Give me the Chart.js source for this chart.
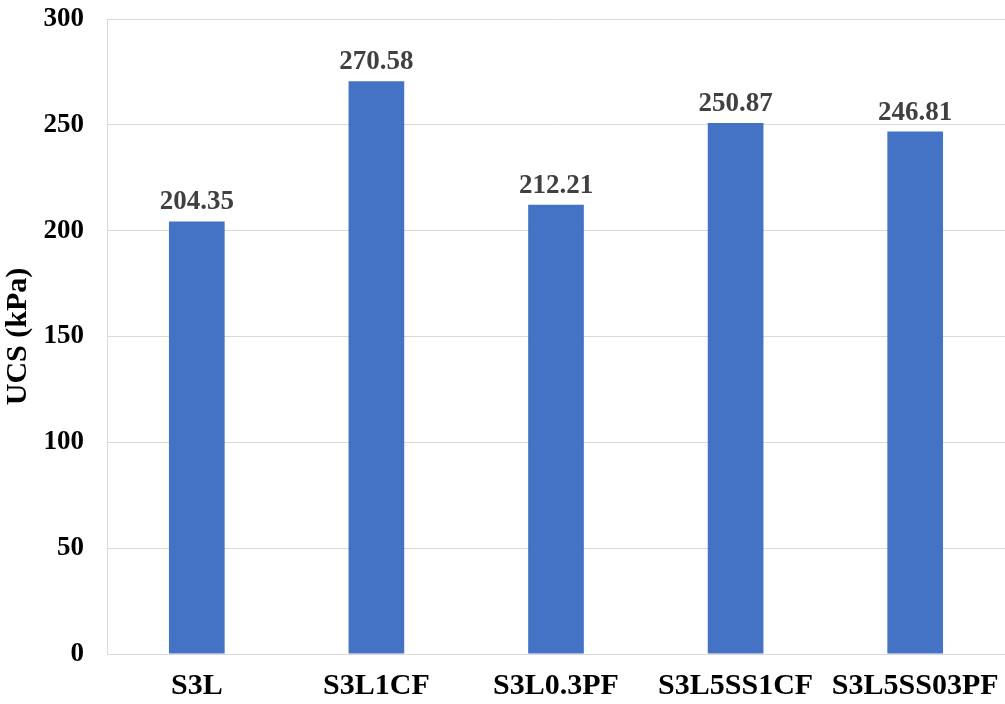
<!DOCTYPE html>
<html>
<head>
<meta charset="utf-8">
<script src="https://cdn.jsdelivr.net/npm/chart.js@4.4.0/dist/chart.umd.min.js"></script>
<style>
html,body{margin:0;padding:0;background:#fff;}
#wrap{width:1005px;height:704px;position:relative;}
</style>
</head>
<body>
<div id="wrap"><canvas id="c"></canvas></div>
<script>
const categories = ["S3L", "S3L1CF", "S3L0.3PF", "S3L5SS1CF", "S3L5SS03PF"];
const ucsValues = [204.35, 270.58, 212.21, 250.87, 246.81];
const valueLabels = ["204.35", "270.58", "212.21", "250.87", "246.81"];
const yTicks = [0, 50, 100, 150, 200, 250, 300];

const FONT = "'Liberation Serif', 'Times New Roman', serif";

const labelPlugin = {
  id: 'valueLabels',
  afterDatasetsDraw(chart) {
    const ctx = chart.ctx;
    const meta = chart.getDatasetMeta(0);
    ctx.save();
    ctx.font = "bold 27px " + FONT;
    ctx.fillStyle = "#404040";
    ctx.textAlign = "center";
    ctx.textBaseline = "alphabetic";
    meta.data.forEach((bar, i) => {
      ctx.fillText(valueLabels[i], bar.x, bar.y - 12);
    });
    ctx.restore();
  }
};

new Chart(document.getElementById('c'), {
  type: 'bar',
  data: {
    labels: categories,
    datasets: [{
      data: ucsValues,
      backgroundColor: '#4472C4',
      borderWidth: 0,
      categoryPercentage: 1,
      barPercentage: 0.31
    }]
  },
  options: {
    responsive: true,
    maintainAspectRatio: false,
    animation: false,
    devicePixelRatio: 1,
    layout: { padding: { top: 19, right: 0, left: 0, bottom: 0 } },
    plugins: { legend: { display: false }, tooltip: { enabled: false } },
    scales: {
      x: {
        grid: { display: false, drawTicks: false },
        border: { display: true, color: '#d9d9d9', width: 1 },
        ticks: { color: '#000', font: { family: FONT, size: 30, weight: 'bold' }, padding: 14, maxRotation: 0, autoSkip: false },
        afterFit(s) { s.height = 50; s.paddingLeft = 0; s.paddingRight = 0; }
      },
      y: {
        min: 0, max: 300,
        afterBuildTicks(s) { s.ticks = yTicks.map(v => ({ value: v })); },
        grid: { color: '#d9d9d9', lineWidth: 1, drawTicks: false },
        border: { display: true, color: '#d9d9d9', width: 1 },
        ticks: { color: '#000', font: { family: FONT, size: 27, weight: 'bold' }, padding: 23 },
        title: { display: true, text: 'UCS (kPa)', color: '#000', font: { family: FONT, size: 30, weight: 'bold' }, padding: { top: 0, bottom: 0 } },
        afterFit(s) { s.width = 107; s.paddingTop = 0; s.paddingBottom = 0; }
      }
    }
  },
  plugins: [labelPlugin]
});
</script>
</body>
</html>
